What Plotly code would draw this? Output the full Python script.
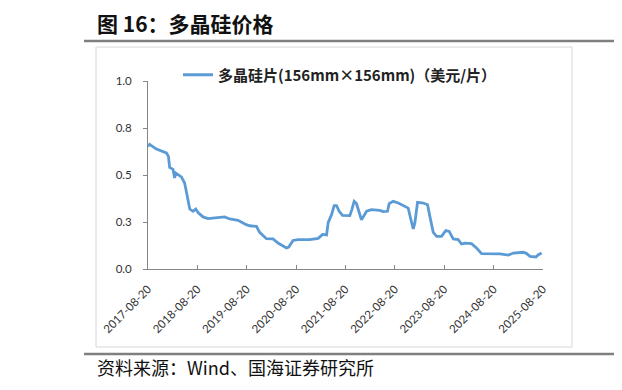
import plotly.graph_objects as go

# ---- data ----
dates = [
    "2017-08-20", "2017-09-01", "2017-10-21", "2018-01-03", "2018-01-18", "2018-01-27",
    "2018-02-21", "2018-03-05", "2018-03-13", "2018-03-30", "2018-04-24", "2018-05-18",
    "2018-06-05", "2018-06-25", "2018-07-19", "2018-08-08", "2018-08-25", "2018-10-01",
    "2018-11-07", "2019-01-08", "2019-03-10", "2019-04-16", "2019-06-17", "2019-08-17",
    "2019-09-11", "2019-10-31", "2019-11-24", "2020-01-13", "2020-03-02", "2020-04-08",
    "2020-06-09", "2020-06-26", "2020-07-28", "2020-09-04", "2020-11-29", "2021-01-30",
    "2021-03-03", "2021-04-02", "2021-04-14", "2021-05-09", "2021-05-28", "2021-06-15",
    "2021-07-04", "2021-07-29", "2021-09-21", "2021-10-06", "2021-10-23", "2021-11-09",
    "2021-11-29", "2021-12-16", "2021-12-29", "2022-01-23", "2022-02-28", "2022-05-01",
    "2022-05-26", "2022-06-27", "2022-07-09", "2022-08-08", "2022-09-14", "2022-11-02",
    "2022-11-27", "2022-12-14", "2023-01-03", "2023-01-15", "2023-02-04", "2023-03-18",
    "2023-04-19", "2023-05-06", "2023-05-31", "2023-06-25", "2023-07-31", "2023-09-01",
    "2023-09-26", "2023-10-26", "2023-12-02", "2023-12-26", "2024-01-20", "2024-03-09",
    "2024-04-15", "2024-05-23", "2024-07-23", "2024-10-06", "2024-12-06", "2025-01-13",
    "2025-03-27", "2025-04-21", "2025-05-16", "2025-06-29", "2025-07-17", "2025-08-10",
]
prices = [
    0.652, 0.663, 0.638, 0.617, 0.600, 0.540,
    0.530, 0.484, 0.510, 0.500, 0.490, 0.457,
    0.386, 0.319, 0.307, 0.319, 0.300, 0.277,
    0.268, 0.271, 0.277, 0.266, 0.259, 0.236,
    0.230, 0.227, 0.195, 0.161, 0.160, 0.138,
    0.112, 0.117, 0.152, 0.156, 0.156, 0.163,
    0.184, 0.181, 0.248, 0.289, 0.337, 0.337,
    0.307, 0.285, 0.284, 0.316, 0.360, 0.348,
    0.298, 0.262, 0.277, 0.307, 0.316, 0.312,
    0.305, 0.307, 0.348, 0.360, 0.351, 0.333,
    0.324, 0.271, 0.213, 0.245, 0.355, 0.351,
    0.342, 0.280, 0.195, 0.174, 0.174, 0.204,
    0.200, 0.160, 0.156, 0.133, 0.138, 0.135,
    0.112, 0.082, 0.082, 0.080, 0.074, 0.085,
    0.089, 0.082, 0.067, 0.064, 0.076, 0.085,
]
series_name = "多晶硅片(156mm×156mm)（美元/片）"
x_tick_vals = ["2017-08-20", "2018-08-20", "2019-08-20", "2020-08-20", "2021-08-20",
               "2022-08-20", "2023-08-20", "2024-08-20", "2025-08-20"]
x_tick_text = x_tick_vals
y_tick_vals = [0.0, 0.25, 0.5, 0.75, 1.0]
y_tick_text = ["0.0", "0.3", "0.5", "0.8", "1.0"]
title_text = "图 16：多晶硅价格"
source_text = "资料来源：Wind、国海证券研究所"

# ---- layout geometry (screen pixels; page body has an 8px margin) ----
OFF = 8
W, H = 622, 390
L, R, T, B = 148 - OFF, 543 - OFF, 81 - OFF, 269 - OFF


def px(xs):
    return (xs - OFF - L) / (R - L)


def py(ys):
    return (B - (ys - OFF)) / (B - T)


fig = go.Figure()
fig.add_trace(go.Scatter(
    x=dates, y=prices, mode="lines", name=series_name,
    line=dict(color="#5B9BD5", width=2.8),
    showlegend=True,
))

axis_font = dict(family="Lato, 'Noto Sans', sans-serif", size=11.5, color="#333333")
cjk = "'Noto Sans CJK SC', sans-serif"

fig.update_layout(
    width=W, height=H, autosize=False,
    margin=dict(l=L, r=W - R, t=T, b=H - B, pad=0),
    paper_bgcolor="white", plot_bgcolor="white",
    showlegend=True,
    legend=dict(
        x=px(178), y=py(75), xanchor="left", yanchor="middle",
        orientation="h", bgcolor="rgba(0,0,0,0)",
        font=dict(family=cjk, size=15, color="#222222", weight="bold"),
        itemwidth=30,
    ),
    xaxis=dict(
        type="date", range=["2017-08-20", "2025-08-20"],
        tickvals=x_tick_vals, ticktext=x_tick_text, tickangle=-45,
        ticks="inside", ticklen=4, tickcolor="#868686",
        showline=True, linecolor="#868686", linewidth=1,
        showgrid=False, zeroline=False, tickfont=axis_font,
        ticklabelstandoff=8,
    ),
    yaxis=dict(
        range=[0, 1], tickvals=y_tick_vals, ticktext=y_tick_text,
        ticks="outside", ticklen=4, tickcolor="#868686",
        showline=True, linecolor="#868686", linewidth=1,
        showgrid=False, zeroline=False, tickfont=axis_font,
        ticklabelstandoff=9,
    ),
)

shapes = [
    # rule under title
    dict(type="line", xref="paper", yref="paper", x0=px(84), x1=px(630), y0=py(41), y1=py(41),
         line=dict(color="#7f7f7f", width=2.5)),
    # chart frame
    dict(type="rect", xref="paper", yref="paper", x0=px(96), x1=px(572), y0=py(347), y1=py(47),
         line=dict(color="#d6d6d6", width=1)),
    # rule above source
    dict(type="line", xref="paper", yref="paper", x0=px(84), x1=px(630), y0=py(354), y1=py(354),
         line=dict(color="#7f7f7f", width=2.5)),
    # neighbouring chart frame edge (cut off)
    dict(type="line", xref="paper", yref="paper", x0=px(618), x1=px(618), y0=py(68), y1=py(323),
         line=dict(color="#e0e0e0", width=1)),
    dict(type="line", xref="paper", yref="paper", x0=px(618), x1=px(630), y0=py(323), y1=py(323),
         line=dict(color="#d0d0d0", width=1)),
]
fig.update_layout(shapes=shapes)

fig.add_annotation(
    text="<b>" + title_text + "</b>", xref="paper", yref="paper", x=px(95), y=py(23),
    xanchor="left", yanchor="middle", showarrow=False,
    font=dict(family=cjk, size=21, color="#111111"),
)
fig.add_annotation(
    text=source_text, xref="paper", yref="paper", x=px(95), y=py(367),
    xanchor="left", yanchor="middle", showarrow=False,
    font=dict(family=cjk, size=18, color="#111111"),
)
fig.add_annotation(
    text="<b>图</b>", xref="paper", yref="paper", x=px(615), y=py(23),
    xanchor="left", yanchor="middle", showarrow=False,
    font=dict(family=cjk, size=21, color="#111111"),
)
fig.add_annotation(
    text="资", xref="paper", yref="paper", x=px(617), y=py(367),
    xanchor="left", yanchor="middle", showarrow=False,
    font=dict(family=cjk, size=18, color="#111111"),
)

fig.write_html("out.html")
